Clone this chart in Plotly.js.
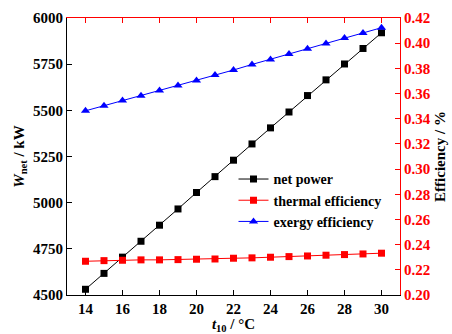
<!DOCTYPE html>
<html>
<head>
<meta charset="utf-8">
<script src="https://cdn.plot.ly/plotly-3.0.1.min.js"></script>
<style>html,body{margin:0;padding:0;background:#fff;}#chart{width:452px;height:334px;}</style>
</head>
<body>
<div id="chart"></div>
<script>
const t10 = [14,15,16,17,18,19,20,21,22,23,24,25,26,27,28,29,30];
const netPower = [4531,4617,4705,4791,4878,4966,5055,5141,5230,5318,5405,5491,5580,5665,5751,5835,5920];
const thermalEff = [0.2268,0.2273,0.2276,0.2279,0.2279,0.2281,0.2284,0.2286,0.2292,0.2295,0.2300,0.2305,0.2310,0.2316,0.2321,0.2326,0.2332];
const exergyEff = [0.3463,0.3503,0.3545,0.3582,0.3624,0.3664,0.3704,0.3747,0.3787,0.3831,0.3871,0.3914,0.3956,0.3998,0.4041,0.4081,0.4123];
const xTicks = [14,16,18,20,22,24,26,28,30];
const yLeftTicks = [4500,4750,5000,5250,5500,5750,6000];
const yRightTicks = [0.20,0.22,0.24,0.26,0.28,0.30,0.32,0.34,0.36,0.38,0.40,0.42];

const F = 'Liberation Serif, Times New Roman, serif';
const traces = [
  {x:t10, y:netPower, name:'net power', mode:'lines+markers', xaxis:'x', yaxis:'y',
   line:{color:'#000', width:1}, marker:{symbol:'square', size:7, color:'#000'}},
  {x:t10, y:thermalEff, name:'thermal efficiency', mode:'lines+markers', xaxis:'x', yaxis:'y2',
   line:{color:'#ff0000', width:1}, marker:{symbol:'square', size:7, color:'#ff0000'}},
  {x:t10, y:exergyEff, name:'exergy efficiency', mode:'lines+markers', xaxis:'x', yaxis:'y2',
   line:{color:'#0000ff', width:1}, marker:{symbol:'triangle-up', size:8, color:'#0000ff'}},
  {x:[], y:[], xaxis:'x2', yaxis:'y', showlegend:false, hoverinfo:'skip', mode:'markers'}
];
const layout = {
  width:452, height:334,
  margin:{l:67, r:52, t:18, b:39},
  paper_bgcolor:'#fff', plot_bgcolor:'#fff',
  font:{family:F, size:15, color:'#000', weight:'bold'},
  showlegend:true,
  legend:{x:0.5, y:0.475, xanchor:'left', yanchor:'top', bgcolor:'rgba(0,0,0,0)',
          font:{family:F, size:14, color:'#000', weight:'bold'}, tracegroupgap:0, itemwidth:30},
  xaxis:{range:[13,31], tickvals:xTicks, ticks:'inside', ticklen:5, tickcolor:'#000',
         showline:true, linecolor:'#000', linewidth:1, showgrid:false, zeroline:false,
         tickfont:{family:F, size:15, weight:'bold'},
         title:{text:'<i>t</i><sub>10</sub> / °C', font:{family:F, size:15, weight:'bold'}, standoff:2}},
  xaxis2:{range:[13,31], overlaying:'x', side:'top', tickvals:xTicks, ticks:'inside', ticklen:5,
          tickcolor:'#ff0000', showline:true, linecolor:'#ff0000', linewidth:1, showticklabels:false,
          showgrid:false, zeroline:false},
  yaxis:{range:[4500,6000], tickvals:yLeftTicks, ticks:'inside', ticklen:5, tickcolor:'#000',
         showline:true, linecolor:'#000', linewidth:1, showgrid:false, zeroline:false,
         tickfont:{family:F, size:15, weight:'bold'},
         title:{text:'<i>W</i><sub>net</sub> / kW', font:{family:F, size:15, weight:'bold'}, standoff:4}},
  yaxis2:{range:[0.20,0.42], overlaying:'y', side:'right', tickvals:yRightTicks, tickformat:'.2f',
          ticks:'inside', ticklen:5, tickcolor:'#ff0000', showline:true, linecolor:'#ff0000', linewidth:1,
          showgrid:false, zeroline:false, tickfont:{family:F, size:15, color:'#ff0000', weight:'bold'},
          title:{text:'Efficiency / %', font:{family:F, size:15, color:'#000', weight:'bold'}, standoff:4}}
};
Plotly.newPlot('chart', traces, layout, {staticPlot:true, displayModeBar:false});
</script>
</body>
</html>
